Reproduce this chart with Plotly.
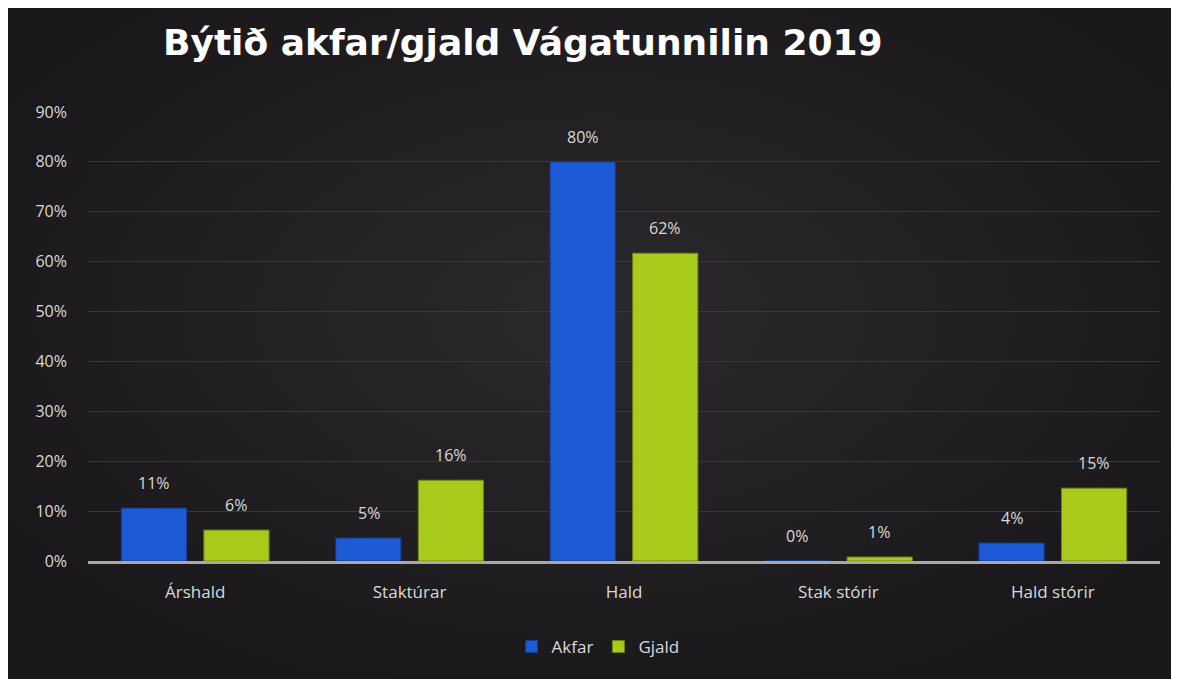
import base64
import plotly.graph_objects as go

categories = ["Árshald", "Staktúrar", "Hald", "Stak stórir", "Hald stórir"]
akfar = [0.106, 0.046, 0.800, 0.0, 0.036]
gjald = [0.062, 0.162, 0.617, 0.008, 0.146]
y_ticks = [0, 0.1, 0.2, 0.3, 0.4, 0.5, 0.6, 0.7, 0.8, 0.9]
y_tick_labels = ["0%", "10%", "20%", "30%", "40%", "50%", "60%", "70%", "80%", "90%"]

BLUE = "#1d5ad6"
GREEN = "#a8ca1b"
TXT = "#d9d9d9"
FONT = "Open Sans"
BG = "#1d1b1e"

W, H = 1179, 679
L, R, T, B = 80, 27, 104, 126
PW, PH = W - L - R, H - T - B

fig = go.Figure()
fig.add_trace(go.Bar(name="Akfar", x=categories, y=akfar,
                     marker=dict(color=BLUE, line=dict(color="#133c8e", width=1))))
fig.add_trace(go.Bar(name="Gjald", x=categories, y=gjald,
                     marker=dict(color=GREEN, line=dict(color="#6c8312", width=1))))

# data labels above bars
for cat, a, g in zip(categories, akfar, gjald):
    for val, shift in ((a, -41), (g, 41)):
        fig.add_annotation(x=cat, y=val, text=f"{round(val*100):.0f}%",
                           showarrow=False, xshift=shift, yshift=25,
                           yanchor="middle",
                           font=dict(family=FONT, size=16, color=TXT))

# subtle radial gradient background (slide look)
svg = ('<svg xmlns="http://www.w3.org/2000/svg" width="1179" height="679">'
       '<defs><radialGradient id="g" cx="0.5" cy="0.45" r="0.6">'
       '<stop offset="0" stop-color="#2c292c"/>'
       '<stop offset="1" stop-color="#19171a"/></radialGradient></defs>'
       '<rect width="1179" height="679" fill="url(#g)"/></svg>')
src = "data:image/svg+xml;base64," + base64.b64encode(svg.encode()).decode()
fig.add_layout_image(source=src, xref="paper", yref="paper",
                     x=-L / PW, y=(PH + T) / PH, sizex=W / PW, sizey=H / PH,
                     xanchor="left", yanchor="top", sizing="stretch", layer="below")

fig.update_layout(
    width=W, height=H,
    margin=dict(l=L, r=R, t=T, b=B),
    paper_bgcolor=BG,
    plot_bgcolor="rgba(0,0,0,0)",
    barmode="group", bargap=0.23, bargroupgap=0.21,
    title=dict(text="<b>Býtið akfar/gjald Vágatunnilin 2019</b>",
               x=155 / W, xanchor="left", xref="container",
               y=1 - 34 / H, yanchor="middle", yref="container",
               font=dict(family="DejaVu Sans", size=36, color="white")),
    legend=dict(orientation="h", x=0.4758, xanchor="center", y=-0.1915, yanchor="middle",
                font=dict(family=FONT, size=17, color=TXT),
                bgcolor="rgba(0,0,0,0)", itemwidth=30, tracegroupgap=0),
    showlegend=True,
)
fig.update_yaxes(range=[0, 0.9], tickvals=y_ticks, ticktext=y_tick_labels,
                 showgrid=True, gridcolor="#3a373a", gridwidth=1,
                 zeroline=False, showline=False,
                 tickfont=dict(family=FONT, size=16, color=TXT),
                 ticklabelstandoff=20)
fig.update_xaxes(showline=True, linecolor="#a8a8a8", linewidth=3,
                 showgrid=False, ticks="",
                 tickfont=dict(family=FONT, size=17, color=TXT),
                 ticklabelstandoff=14)

fig.write_html("out.html")
